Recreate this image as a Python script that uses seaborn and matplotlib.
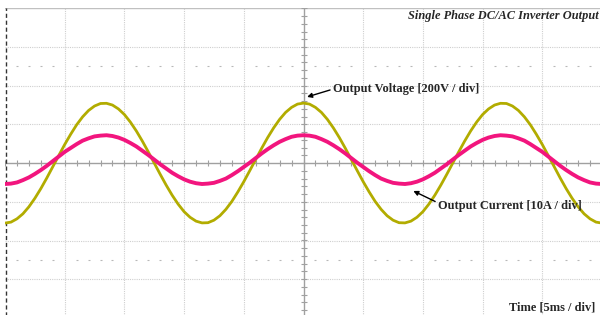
import numpy as np
import pandas as pd
import matplotlib
matplotlib.use("Agg")
import matplotlib.pyplot as plt
import seaborn as sns

# time axis (ms), 0.5 ms sampling, 10 divisions of 5 ms
time_ms = [0.5 * k for k in range(101)]

# Output voltage (V)
voltage_v = [
    -310, -305, -288, -262, -226, -182, -132, -77, -19, 39, 96, 149, 198, 239, 272, 295, 308,
    309, 300, 280, 251, 212, 166, 114, 58, 0, -58, -114, -166, -212, -251, -280, -300, -309,
    -308, -295, -272, -239, -198, -149, -96, -39, 19, 77, 132, 182, 226, 262, 288, 305, 310,
    305, 288, 262, 226, 182, 132, 77, 19, -39, -96, -149, -198, -239, -272, -295, -308, -309,
    -300, -280, -251, -212, -166, -114, -58, 0, 58, 114, 166, 212, 251, 280, 300, 309, 308,
    295, 272, 239, 198, 149, 96, 39, -19, -77, -132, -182, -226, -262, -288, -305, -310,
]

# Output current (A)
current_a = [
    -5.4, -5.3, -5.0, -4.4, -3.7, -2.8, -1.8, -0.7, 0.5, 1.7, 2.9, 3.9, 4.9, 5.8, 6.4, 6.9, 7.1,
    7.2, 7.0, 6.6, 6.0, 5.2, 4.3, 3.2, 2.1, 0.9, -0.3, -1.4, -2.5, -3.4, -4.2, -4.8, -5.2, -5.4,
    -5.3, -5.1, -4.6, -4.0, -3.1, -2.1, -1.0, 0.1, 1.3, 2.5, 3.6, 4.6, 5.5, 6.2, 6.8, 7.1, 7.2,
    7.1, 6.8, 6.2, 5.5, 4.6, 3.6, 2.5, 1.3, 0.1, -1.0, -2.1, -3.1, -4.0, -4.6, -5.1, -5.3, -5.4,
    -5.2, -4.8, -4.2, -3.4, -2.5, -1.4, -0.3, 0.9, 2.1, 3.2, 4.3, 5.2, 6.0, 6.6, 7.0, 7.2, 7.1,
    6.9, 6.4, 5.8, 4.9, 3.9, 2.9, 1.7, 0.5, -0.7, -1.8, -2.8, -3.7, -4.4, -5.0, -5.3, -5.4,
]

volts_per_div = 200
amps_per_div = 10
ms_per_div = 5

title_text = "Single Phase DC/AC Inverter Output"
voltage_label = "Output Voltage [200V / div]"
current_label = "Output Current [10A / div]"
time_label = "Time [5ms / div]"

df = pd.DataFrame({
    "t": time_ms,
    "v_div": [v / volts_per_div for v in voltage_v],
    "i_div": [i / amps_per_div for i in current_a],
})

sns.set_style("white")
plt.rcParams["font.family"] = ["Liberation Serif", "DejaVu Serif"]

fig = plt.figure(figsize=(6, 3.15), dpi=100)
W, H = 600, 315
left_px, top_px = 5, 8.3
div_w, div_h = 59.7, 38.7
ax = fig.add_axes([left_px / W, (H - top_px - 8 * div_h) / H, 10 * div_w / W, 8 * div_h / H])
ax.set_xlim(0, 50)
ax.set_ylim(-4, 4)
for s in ax.spines.values():
    s.set_visible(False)
ax.set_xticks([])
ax.set_yticks([])

grid_col = "#cfcfcf"
for k in range(1, 10):
    if k != 5:
        ax.axvline(k * ms_per_div, color=grid_col, lw=0.8, ls=(0, (1, 1)), zorder=1)
for k in range(-3, 4):
    if k != 0:
        ax.axhline(k, color=grid_col, lw=0.8, ls=(0, (1, 1)), zorder=1)
ax.axhline(4, color="#c0c0c0", lw=1.0, zorder=1)
# center axes
ax.axhline(0, color="#a0a0a0", lw=1.0, zorder=1)
ax.axvline(25, color="#a0a0a0", lw=1.0, zorder=1)
minor_t = [x for x in np.arange(0, 50.01, 1.0)]
ax.plot(minor_t, [0] * len(minor_t), ls="none", marker="|", ms=4, mew=0.8, color="#a0a0a0", zorder=1)
minor_y = list(np.arange(-4, 4.01, 0.2))
ax.plot([25] * len(minor_y), minor_y, ls="none", marker="_", ms=4, mew=0.8, color="#a0a0a0", zorder=1)
# sparse dotted lines
dot_t = [x for x in np.arange(1, 50, 1.0) if int(round(x)) % 5 != 0]
for yy in (2.5, -2.5):
    ax.plot(dot_t, [yy] * len(dot_t), ls="none", marker="_", ms=1.5, mew=0.8, color="#b8b8b8", zorder=1)
# left dashed edge
ax.axvline(0.05, color="#333333", lw=1.0, ls=(0, (3, 2)), zorder=2)

sns.lineplot(data=df, x="t", y="v_div", ax=ax, color="#b2ac00", lw=2.0, zorder=3, legend=False)
sns.lineplot(data=df, x="t", y="i_div", ax=ax, color="#f2157e", lw=2.8, zorder=4, legend=False)
ax.set_xlabel("")
ax.set_ylabel("")

fs = 8.9
ax.text(49.7, 3.80, title_text, ha="right", va="center", fontsize=fs,
        fontweight="bold", fontstyle="italic", zorder=5)
ax.annotate(voltage_label, xy=(25.3, 1.71), xytext=(27.5, 1.915), ha="left", va="center",
            fontsize=fs, fontweight="bold",
            arrowprops=dict(arrowstyle="-|>", color="black", lw=1.0, mutation_scale=7,
                            shrinkA=0, shrinkB=0, relpos=(0, 0.5)), zorder=5)
ax.annotate(current_label, xy=(34.2, -0.72), xytext=(36.3, -1.11), ha="left", va="center",
            fontsize=fs, fontweight="bold",
            arrowprops=dict(arrowstyle="-|>", color="black", lw=1.0, mutation_scale=7,
                            shrinkA=0, shrinkB=0, relpos=(0, 0.75)), zorder=5)
ax.text(49.4, -3.72, time_label, ha="right", va="center", fontsize=fs, fontweight="bold", zorder=5)

fig.savefig("out.png", dpi=100)
